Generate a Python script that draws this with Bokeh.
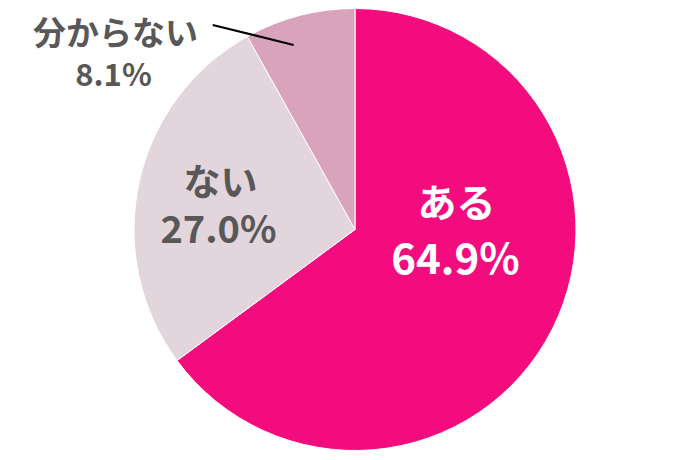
import math
from bokeh.plotting import figure
from bokeh.models import ColumnDataSource
from bokeh.core.properties import value
from bokeh.embed import file_html
from bokeh.resources import INLINE

# data
categories = ["ある", "ない", "分からない"]
shares = [64.9, 27.0, 8.1]
colors = ["#F20C7E", "#E2D6DC", "#D9A3BC"]
label_colors = ["#FFFFFF", "#595757", "#595757"]

W, H = 690, 460
CX, CY, R = 354.5, 231.0, 221.0

p = figure(width=W, height=H, x_range=(0, W), y_range=(0, H),
           output_backend="svg", toolbar_location=None, min_border=0)
p.axis.visible = False
p.grid.visible = False
p.outline_line_color = None
p.background_fill_color = "white"

total = sum(shares)
starts, ends, cum = [], [], 0.0
for s in shares:
    starts.append(math.pi / 2 - 2 * math.pi * cum / total)
    cum += s
    ends.append(math.pi / 2 - 2 * math.pi * cum / total)

src = ColumnDataSource(dict(start=starts, end=ends, color=colors))
p.wedge(x=CX, y=CY, radius=R, start_angle="start", end_angle="end",
        direction="clock", fill_color="color", line_color="white",
        line_width=1, source=src)

# leader line for the small slice
frac = 1 - shares[2] / total * 0.63
ang = math.pi / 2 - 2 * math.pi * frac
ex, ey = CX + 0.88 * R * math.cos(ang), CY + 0.88 * R * math.sin(ang)
p.line(x=[ex - 81, ex], y=[ey + 20, ey], line_color="black", line_width=2)

font = value("Noto Sans CJK JP")
# label positions (x, y for name, y for percent), font sizes
lab_x = [456, 220, 115]
lab_x_pct = [455, 218, 113]
lab_y_name = [261, 281, 430]
lab_y_pct = [205, 234, 388]
name_sizes = ["39px", "37px", "33px"]
pct_sizes = ["42px", "38px", "31px"]

for i, c in enumerate(categories):
    p.text(x=[lab_x[i]], y=[lab_y_name[i]], text=[c], text_font=font,
           text_font_size=name_sizes[i], text_font_style="bold",
           text_color=label_colors[i], text_align="center",
           text_baseline="middle")
    p.text(x=[lab_x_pct[i]], y=[lab_y_pct[i]], text=[f"{shares[i]:.1f}%"],
           text_font=font, text_font_size=pct_sizes[i],
           text_font_style="bold", text_color=label_colors[i],
           text_align="center", text_baseline="middle")

open("out.html", "w").write(file_html(p, INLINE))
